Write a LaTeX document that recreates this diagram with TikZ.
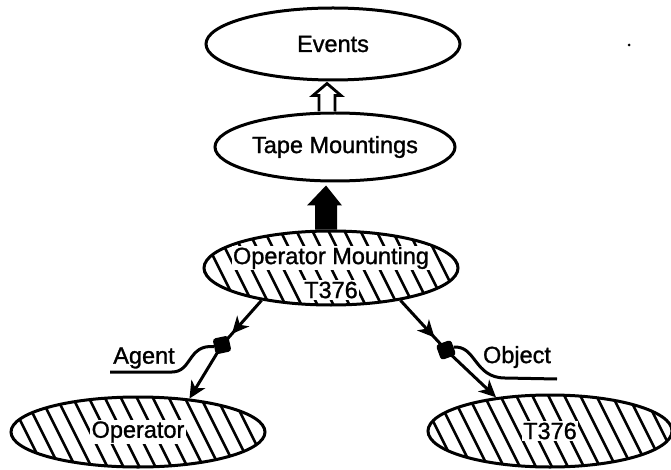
\documentclass[tikz,border=0pt]{standalone}
\usepackage{fontspec}
\setmainfont{Liberation Sans}[BoldFont=Liberation Sans,BoldFeatures={FakeBold=1.2}]
\usetikzlibrary{shapes.geometric,arrows.meta,calc,decorations.markings}
\tikzset{
  ell/.style={ellipse,draw,line width=3pt,inner sep=0pt},
  hatch/.style={path picture={
      \foreach \k in {-14,...,14}
        \draw[line width=2.6pt] ($(path picture bounding box.center)+(\k*16-20,40)$) -- ++(40,-80);
    }},
  lbl/.style={font=\fontsize{23.5}{26}\selectfont\bfseries,inner sep=0pt},
  gap/.style={lbl,fill=white,inner sep=1.5pt},
  conn/.style={line width=3pt},
  tip/.style={-{Stealth[length=17pt,width=16pt,inset=5pt]}},
  blob/.style={fill=black,rounded corners=3pt,minimum size=16pt,inner sep=0pt,rotate=12},
}
\begin{document}
\begin{tikzpicture}[x=1pt,y=1pt]
\useasboundingbox (0,0) rectangle (671,469);
% ellipses
\node[ell,minimum width=254pt,minimum height=72pt] (ev) at (333,425) {};
\node[lbl] at (ev) {Events};
\node[ell,minimum width=240pt,minimum height=68pt] (tm) at (335,322) {};
\node[lbl] at (tm) {Tape Mountings};
\node[ell,hatch,minimum width=254pt,minimum height=74pt] (om) at (331,201) {};
\node[gap] (omt) at ($(om)+(0,10)$) {Operator Mounting};
\node[gap] (omb) at ($(om)+(0,-22)$) {T376};
\node[ell,hatch,minimum width=254pt,minimum height=70pt] (op) at (138,37) {};
\node[gap] at (op) {Operator};
\node[ell,hatch,minimum width=244pt,minimum height=72pt] (tt) at (550,38) {};
\node[gap] at (tt) {T376};
% open block arrow Tape -> Events
\draw[line width=2.8pt,fill=white,line join=miter]
  ($(tm.north)+(-16,0)$) -- ++(0,16) -- ++(-6,0) -- ($(ev.south)+(-6,-2)$)
  -- ($(tm.north)+(6,16)$) -- ++(-6,0) -- ($(tm.north)+(0,0)$);
% filled block arrow Operator Mounting -> Tape
\fill ($(om.north)+(-16,0)$) -- ++(0,24) -- ++(-8,0) -- ($(tm.south)+(-9,-3)$)
  -- ($(om.north)+(11,24)$) -- ++(-5,0) -- ($(om.north)+(6,0)$) -- cycle;
% blobs
\node[blob] (bl) at (222,124) {};
\node[blob,rotate=8] (br) at (446,119) {};
% connectors
\draw[conn,decoration={markings,mark=at position 0.75 with {\arrow{Stealth[length=17pt,width=16pt,inset=5pt]}}},postaction={decorate}]
  (om.205) -- (bl.center);
\draw[conn,tip] (bl.center) -- (op.33);
\draw[conn,decoration={markings,mark=at position 0.75 with {\arrow{Stealth[length=17pt,width=16pt,inset=5pt]}}},postaction={decorate}]
  (om.335) -- (br.center);
\draw[conn,tip] (br.center) -- (tt.148);
% labels
\node[lbl] (ag) at (144,111) {Agent};
\draw[conn] (bl.west) .. controls (188,125) and (192,97) .. (172,97) -- (110,97);
\node[lbl] (ob) at (517,112) {Object};
\draw[conn] (br.east) .. controls (476,124) and (474,91) .. (505,91) -- (557,90);
% speck
\fill (629,424) circle (1.5pt);
\end{tikzpicture}
\end{document}
